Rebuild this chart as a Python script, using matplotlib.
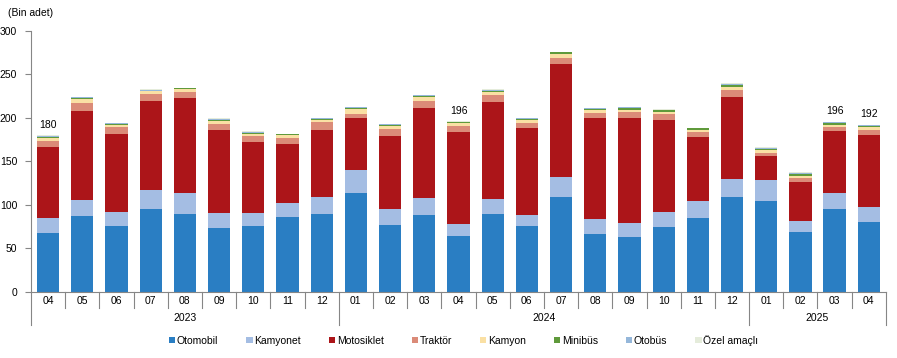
import matplotlib
matplotlib.use("Agg")
import matplotlib.pyplot as plt
import matplotlib.transforms as mtransforms
from matplotlib.patches import Patch
import numpy as np

plt.rcParams['font.family'] = ['Liberation Sans', 'DejaVu Sans']

months = ['04', '05', '06', '07', '08', '09', '10', '11', '12',
          '01', '02', '03', '04', '05', '06', '07', '08', '09', '10', '11', '12',
          '01', '02', '03', '04']
years = ['2023', '2024', '2025']
year_spans = [(0, 8), (9, 20), (21, 24)]

otomobil = [68, 87, 76, 95, 90, 74, 76, 86, 90,
            114, 77, 88.5, 64.4, 90, 76, 109, 67, 63, 74.7, 85, 109,
            104.6, 69, 95.4, 80.5]
kamyonet = [17, 19, 16, 22, 24, 17, 15, 16, 19,
            26, 18.4, 19.5, 13.6, 17, 12.5, 23, 17, 16.3, 17.3, 19.6, 21,
            24, 12.6, 18.4, 17.2]
motosiklet = [82, 102, 90, 102.5, 109, 95, 81.5, 68, 77,
              60, 83.6, 103.5, 106, 111.4, 100, 130, 116, 120.7, 105.7, 73.4, 94,
              27.4, 44.8, 71, 82.8]
traktor = [7, 9, 7.5, 8, 7, 7, 6.5, 7, 9,
           4.6, 8, 8, 7, 8, 5.5, 7, 5.7, 7, 7, 6, 8,
           3.8, 4.6, 4.6, 5.5]
kamyon = [3.5, 5, 3, 3, 3, 4, 3, 3, 2.7,
          5.4, 4, 4.3, 3, 3.6, 3.7, 4.6, 3.3, 2, 2.4, 2, 3.6,
          3.2, 2, 2.4, 3.6]
minibus = [1.0, 1.0, 1.0, 1.0, 1.2, 1.0, 1.2, 1.2, 1.3,
           2.0, 1.2, 1.2, 1.0, 1.5, 1.0, 1.8, 1.2, 2.3, 1.8, 2.0, 2.4,
           1.8, 2.6, 2.0, 1.2]
otobus = [0.8, 0.6, 0.5, 1.0, 0.5, 1.2, 1.0, 0.5, 0.6,
          0.6, 0.8, 1.2, 0.6, 0.8, 0.8, 0.3, 0.8, 0.8, 0.7, 0.5, 1.2,
          1.2, 1.0, 1.2, 0.7]
ozel = [0.7, 0.4, 0.3, 0.8, 0.3, 0.6, 0.5, 0.3, 0.4,
        0.4, 0.5, 0.8, 0.4, 0.7, 0.5, 0.3, 0.5, 0.7, 0.4, 0.3, 0.8,
        0.7, 0.9, 0.8, 0.5]

labelled = {0: '180', 12: '196', 23: '196', 24: '192'}

series = [
    ('Otomobil', otomobil, '#2A7EC3'),
    ('Kamyonet', kamyonet, '#A4BDE3'),
    ('Motosiklet', motosiklet, '#AC1519'),
    ('Traktör', traktor, '#DB8B78'),
    ('Kamyon', kamyon, '#FAE0A4'),
    ('Minibüs', minibus, '#5F9A3B'),
    ('Otobüs', otobus, '#95B7DA'),
    ('Özel amaçlı', ozel, '#E5ECDB'),
]

fig = plt.figure(figsize=(8.97, 3.58), dpi=100)
ax = fig.add_axes([0.0346, 0.1844, 0.953, 0.729])

x = np.arange(len(months))
bottom = np.zeros(len(months))
for name, vals, col in series:
    ax.bar(x, vals, 0.65, bottom=bottom, color=col, label=name, zorder=2)
    bottom = bottom + np.array(vals)

for i, txt in labelled.items():
    ax.annotate(txt, (x[i], bottom[i]), xytext=(0, 4), textcoords='offset points',
                ha='center', va='bottom', fontsize=7.5)

ax.set_xlim(-0.5, len(months) - 0.5)
ax.set_ylim(0, 300)
ax.set_yticks(range(0, 301, 50))
ax.tick_params(axis='y', labelsize=7.5, length=4, color='#868686', pad=6)
ax.set_xticks([])
for s in ['top', 'right']:
    ax.spines[s].set_visible(False)
for s in ['left', 'bottom']:
    ax.spines[s].set_color('#868686')
    ax.spines[s].set_linewidth(0.8)

# category axis: month ticks, separators and year groups
trans = mtransforms.blended_transform_factory(ax.transData, ax.transAxes)
year_edges = [-0.5] + [b + 0.5 for a, b in year_spans]
for k in range(len(months) + 1):
    edge = k - 0.5
    low = -0.125 if edge in year_edges else -0.062
    ax.plot([edge, edge], [0, low], transform=trans, color='#868686', lw=0.8, clip_on=False)
for i, m in enumerate(months):
    ax.text(i, -0.035, m, transform=trans, ha='center', va='center', fontsize=7.5)
for yr, (a, b) in zip(years, year_spans):
    ax.text((a + b) / 2, -0.098, yr, transform=trans, ha='center', va='center', fontsize=7.5)

fig.text(0.009, 0.965, '(Bin adet)', ha='left', va='center', fontsize=7.5)

handles = [Patch(facecolor=col, edgecolor='none') for _, _, col in series]
fig.legend(handles, [n for n, _, _ in series], loc='center', bbox_to_anchor=(0.517, 0.05),
           ncol=8, frameon=False, fontsize=7.5, handlelength=0.6, handleheight=0.6,
           handletextpad=0.15, columnspacing=2.7)

fig.savefig('out.png', dpi=100)
